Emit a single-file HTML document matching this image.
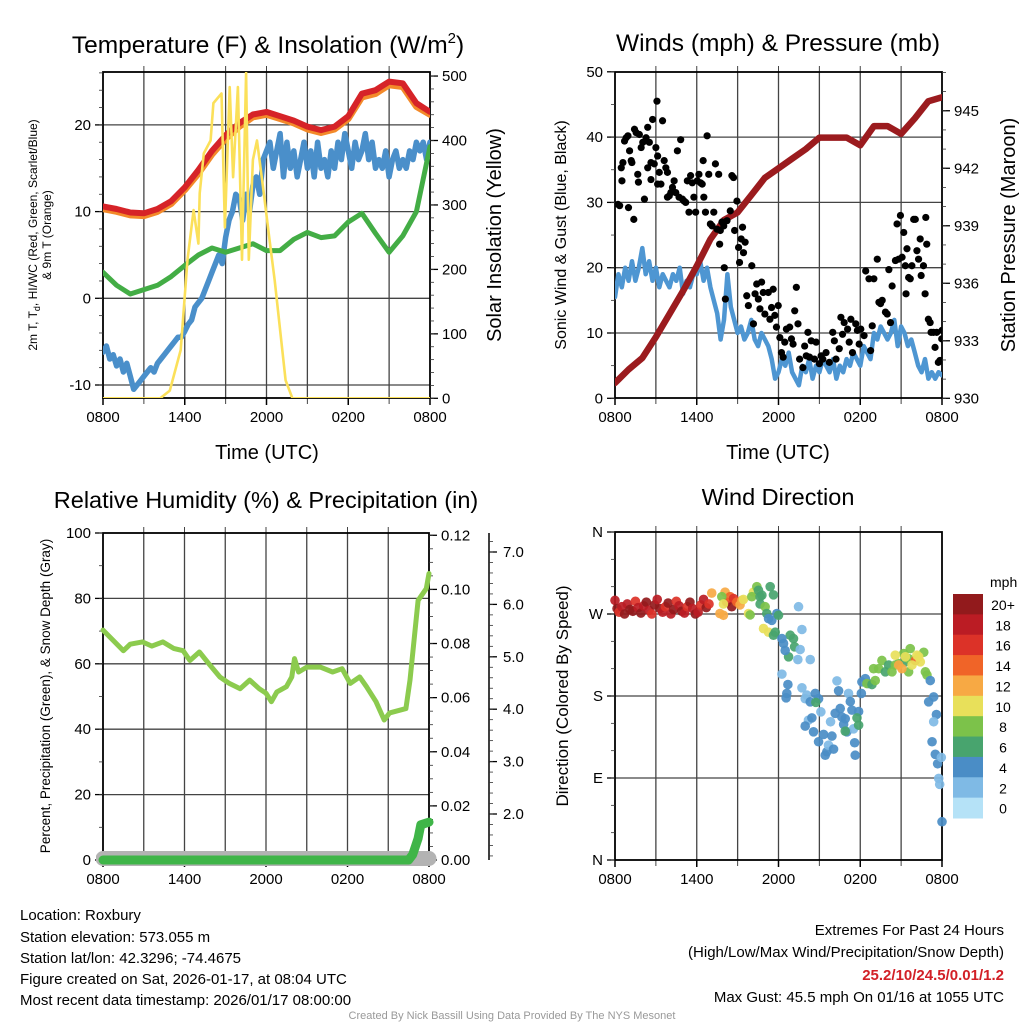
<!DOCTYPE html>
<html><head><meta charset="utf-8">
<style>
html,body{margin:0;padding:0;background:#fff;}
svg{display:block;font-family:"Liberation Sans",sans-serif;}
</style></head>
<body>
<svg id="chart" width="1024" height="1024" viewBox="0 0 1024 1024" xmlns="http://www.w3.org/2000/svg">
<rect x="0" y="0" width="1024" height="1024" fill="#fff"/>
<defs>
<clipPath id="c1"><rect x="103" y="72" width="327" height="326"/></clipPath>
<clipPath id="c2"><rect x="615" y="72" width="327" height="326"/></clipPath>
<clipPath id="c3"><rect x="96" y="520" width="347" height="350"/></clipPath>
<clipPath id="c4"><rect x="608" y="526" width="340" height="340"/></clipPath>
</defs>
<text x="268" y="53" font-size="24.5" text-anchor="middle">Temperature (F) &amp; Insolation (W/m<tspan font-size="15" dy="-10">2</tspan><tspan dy="10">)</tspan></text>
<text x="778" y="51" font-size="24.5" text-anchor="middle">Winds (mph) &amp; Pressure (mb)</text>
<text x="266" y="508" font-size="23.5" text-anchor="middle">Relative Humidity (%) &amp; Precipitation (in)</text>
<text x="778" y="505" font-size="23.5" text-anchor="middle">Wind Direction</text>
<text transform="translate(37,235) rotate(-90)" font-size="12" text-anchor="middle">2m T, T<tspan font-size="9" dy="3">d</tspan><tspan dy="-3">, HI/WC (Red, Green, Scarlet/Blue)</tspan></text>
<text transform="translate(51,235) rotate(-90)" font-size="12" text-anchor="middle">&amp; 9m T (Orange)</text>
<text transform="translate(501,235) rotate(-90)" font-size="20" text-anchor="middle">Solar Insolation (Yellow)</text>
<text x="267" y="459" font-size="20" text-anchor="middle">Time (UTC)</text>
<text transform="translate(566,235) rotate(-90)" font-size="16" text-anchor="middle">Sonic Wind &amp; Gust (Blue, Black)</text>
<text transform="translate(1015,235) rotate(-90)" font-size="20" text-anchor="middle">Station Pressure (Maroon)</text>
<text x="778" y="459" font-size="20" text-anchor="middle">Time (UTC)</text>
<text transform="translate(50,696) rotate(-90)" font-size="13.5" text-anchor="middle">Percent, Precipitation (Green), &amp; Snow Depth (Gray)</text>
<text transform="translate(568,696) rotate(-90)" font-size="17" text-anchor="middle">Direction (Colored By Speed)</text>
<text x="990" y="587" font-size="14">mph</text>
<g font-size="15">
<text x="20" y="920">Location: Roxbury</text>
<text x="20" y="942">Station elevation: 573.055 m</text>
<text x="20" y="963">Station lat/lon: 42.3296; -74.4675</text>
<text x="20" y="984">Figure created on Sat, 2026-01-17, at 08:04 UTC</text>
<text x="20" y="1005">Most recent data timestamp: 2026/01/17 08:00:00</text>
</g>
<g font-size="15" text-anchor="end">
<text x="1004" y="935">Extremes For Past 24 Hours</text>
<text x="1004" y="957">(High/Low/Max Wind/Precipitation/Snow Depth)</text>
<text x="1004" y="980" fill="#d22027" font-weight="bold">25.2/10/24.5/0.01/1.2</text>
<text x="1004" y="1002">Max Gust: 45.5 mph On 01/16 at 1055 UTC</text>
</g>
<text x="512" y="1019" font-size="11" fill="#999" text-anchor="middle">Created By Nick Bassill Using Data Provided By The NYS Mesonet</text>
</svg>
<script>
// ---------- DATA ----------
const hours = [0,1,2,3,4,5,6,7,8,9,10,11,12,13,14,15,16,17,18,19,20,21,22,23,24];
const quarterHours = [];
for (let i = 0; i <= 96; i++) quarterHours.push(i / 4);
const xTickLabels = ["0800","1400","2000","0200","0800"];
const tempRed = [10.6,10.3,9.9,9.8,10.3,11.2,12.8,14.8,17,18.8,20.2,21.2,21.5,21,20.5,19.8,19.4,19.8,21,23.6,24,25,24.8,22.5,21.5];
const tempOrange = [10.3,10,9.6,9.5,10,10.9,12.5,14.4,16.6,18.4,19.8,20.9,21.2,20.7,20.2,19.5,19.1,19.5,20.7,23.2,23.6,24.6,24.4,22.1,21.2];
const dewGreen = [3.0,1.5,0.5,1.0,1.5,2.5,3.8,5.0,5.8,5.3,5.8,6.3,5.5,5.5,6.8,7.6,7.0,7.2,8.8,9.8,7.5,5.3,7.2,10,17.5];
const windChillBlue = [-6.2,-5.5,-7,-6.5,-7.8,-7,-8.5,-7.5,-9,-10.5,-10,-9.5,-9,-8.5,-8,-8.5,-7.5,-7,-6.5,-6,-5.5,-5,-4.5,-4.5,-3.8,-3,-2.5,-1,-0.5,0,1,2,3,4,5,4,7,9,10,12,11.5,
 9,12,10,13,14,12,16,17,18,15,17,19,14,18,15,17,14,16,18,15,17,14,18,15,16,14,17,15,18,16,19,17,15,18,16,17,19,16,18,15,16,15,17,14,16,17,15,16,15,17,16,18,17,18,16,18];
const solarHours = [0,4.2,4.9,5.7,6.2,6.65,7.0,7.1,7.4,7.9,8.1,8.7,8.95,9.3,9.55,9.9,10.2,10.5,10.7,11.0,11.3,11.8,12.2,12.6,13.4,13.9,24];
const solarValues = [0,0,12,75,215,292,240,318,380,400,458,473,265,483,343,483,215,505,215,370,400,318,250,183,28,0,0];
const tempTicks = [-10,0,10,20];
const solarTicks = [0,100,200,300,400,500];
const pressure = [930.8,931.5,932.1,933.2,934.4,935.6,936.9,938.3,939.3,939.7,940.6,941.5,942.0,942.5,943.0,943.6,943.6,943.6,943.2,944.2,944.2,943.8,944.6,945.5,945.7];
const windSpeed = [15.5,19,17,20,18,21,18,20,23,19,21,18,20,17,19,18,17,19,18,20,16,18,17,19,19,
 21,18,20,17,15,13,9,12,19,14,12,10,11,9,10,12,9,8,10,9,8,6,3,4,
 6,5,7,4,3,2,5,4,6,3,5,4,6,5,4,6,3,5,4,6,5,7,6,5,8,7,6,10,9,11,10,9,10,12,8,11,10,8,9,7,5,4,6,3,4,3,4,3.5];
const gustHours = [0.22,0.34,0.46,0.58,0.51,0.7,0.82,0.95,0.99,1.07,1.19,1.24,1.38,1.43,1.55,1.67,1.79,1.72,1.92,2.04,2.16,2.28,2.4,2.4,2.52,2.64,2.64,2.76,2.88,3.0,3.08,3.13,3.25,3.13,3.37,3.49,3.61,3.73,3.85,3.85,3.98,4.1,4.22,4.34,4.46,4.58,4.7,4.82,4.95,5.07,5.19,5.31,5.43,5.55,5.67,5.79,5.92,6.04,6.16,6.28,6.4,6.47,6.52,6.64,6.76,6.88,7.0,7.13,7.25,7.37,7.49,7.61,7.68,7.73,7.85,7.98,8.02,8.1,8.22,8.46,8.58,8.7,8.78,8.95,9.07,9.14,9.26,9.36,9.43,9.55,9.67,9.79,10.04,10.16,10.28,10.4,10.52,10.64,10.76,10.88,11.0,11.25,11.37,11.49,11.61,11.73,11.85,11.98,12.1,12.22,12.34,12.46,12.58,12.82,12.95,13.07,13.19,13.31,13.43,13.55,13.79,13.92,14.04,14.16,14.28,14.4,14.64,14.76,15.0,15.13,15.25,15.49,15.73,15.98,16.1,16.22,16.46,16.58,16.7,16.82,17.07,17.19,17.31,17.43,17.67,17.79,17.92,18.04,18.28,18.4,18.64,18.76,18.88,19.0,19.25,19.37,19.49,19.61,19.85,19.98,20.1,20.22,20.34,20.58,20.7,20.82,20.95,21.07,21.19,21.31,21.36,21.43,21.55,21.67,21.79,21.92,22.04,22.16,22.28,22.4,22.47,22.64,22.76,22.81,22.88,23.0,23.13,23.2,23.37,23.49,23.61,23.73,23.85,23.98,24.0];
const gustMph = [29.7,29.5,35.3,36.1,33.3,39.4,39.9,40.2,29.2,37.9,36.4,36.1,27.4,41.2,40.7,34.3,40.4,33.1,38.4,39.2,30.5,39.9,41.5,35.3,39.2,36.1,33.5,42.7,35.9,38.4,45.5,37.1,34.6,32.8,32.8,42.5,36.4,35.3,34.6,30.8,31.0,31.5,32.3,33.3,31.5,37.9,30.8,39.6,30.5,30.2,30,33.3,28.5,34.1,33,30.8,28.5,33.3,34.3,33,32.8,36.4,30.8,28.5,40.2,34.3,26.7,26.4,28.5,35.9,25.9,34.3,23.6,25.7,27,26.4,20.0,15.2,27.2,28.7,34.1,33.8,25.7,30.2,23.1,20.8,24.4,26.2,22.3,23.9,15.7,14.2,20.3,11.4,16,17.5,15.2,13.7,17.8,16.2,12.9,16.2,12.1,13.9,16.7,12.7,10.9,14.2,9.3,7.0,6.3,8.6,10.6,10.9,9.1,8.3,13.4,17,11.4,6.0,4.7,8.0,6.5,10.1,6.3,8.8,6.0,8.6,5.3,6.5,6.0,7.0,5.5,10.1,8.8,6.0,7.6,12.4,9.8,11.6,10.6,8.6,12.1,7.0,11.4,10.4,8.3,10.6,9.6,19.5,18.3,7.3,11.1,18.3,21.3,14.7,14.5,15,13.2,12.9,19.7,11.6,17.2,21.1,26.7,21.3,28,21.6,25.4,20.3,16,22.9,18.5,18.3,20.3,27.4,27.4,22.6,21.3,24.4,18.8,20.3,16,27.7,23.6,12.1,11.6,10.1,10.1,7.8,10.1,5.5,5.8,9.1,10.4];
const windTicks = [0,10,20,30,40,50];
const pressureTicks = [930,933,936,939,942,945];
const rhHours = [0,1.5,2,2.9,3.6,4.4,5.2,5.9,6.4,7.1,7.8,8.6,9.3,10.1,10.8,11.5,12,12.4,12.8,13.5,13.9,14.1,14.4,15,16,16.9,17.6,18.2,18.9,19.4,20.1,20.7,21.1,22.3,22.6,23.2,23.8,24];
const rhValues = [70.3,64,66,66.7,65.4,66.7,64.7,64,61,63.6,60,56,54,52.4,55,52.4,51,48.4,51.4,53,56,61.6,57.5,59,59,57.5,58.5,54,56,53,48.4,42.8,45,46.3,55,79.4,83,87.6];
const precipHours = [0,22.5,22.8,23.0,23.2,23.4,24];
const precipValues = [0,0,0.002,0.005,0.008,0.013,0.014];
const snowHours = [0,24];
const snowDepth = [1.15,1.15];
const rhTicks = [0,20,40,60,80,100];
const precipTicks = [0,0.02,0.04,0.06,0.08,0.10,0.12];
const precipTickLabels = ["0.00","0.02","0.04","0.06","0.08","0.10","0.12"];
const snowTicks = [2,3,4,5,6,7];
const snowTickLabels = ["2.0","3.0","4.0","5.0","6.0","7.0"];
const dirHour = [0,0.15,0.3,0.5,0.7,0.9,1.1,1.3,1.5,1.7,1.9,2.1,2.3,2.5,2.7,2.9,3.1,3.3,3.5,3.7,3.9,4.1,4.3,4.5,4.7,4.9,5.1,5.3,5.5,5.7,5.9,6.1,6.3,6.5,6.7,6.9,
 7.1,7.7,7.96,8.08,8.2,8.57,8.45,8.7,8.94,9.18,9.31,7.84,7.96,9.43,10.16,9.8,9.92,10.04,10.41,10.53,10.65,10.78,10.65,11.02,11.14,11.39,11.63,11.27,11.51,11.88,12.0,10.9,11.27,11.63,11.76,12.86,13.1,13.18,12.74,12.25,12.37,12.49,13.47,13.72,14.33,13.42,13.59,12.25,12.69,12.61,12.56,
 13.72,13.96,14.08,14.33,14.7,14.94,14.2,14.45,13.96,14.57,14.94,15.11,15.31,15.43,15.55,15.67,15.92,16.04,16.16,16.29,16.41,16.53,16.65,16.78,16.9,17.02,17.14,17.27,17.39,17.51,17.59,17.63,17.88,18.08,18.12,18.37,18.61,15.82,14.74,16.9,17.76,17.88,
 18.49,18.86,19.1,18.98,19.35,19.59,19.84,20.08,20.33,20.57,20.82,21.31,21.55,21.67,22.66,22.78,22.9,21.55,21.19,20.57,20.82,21.06,22.04,22.29,22.41,21.8,21.31,22.16,
 23.14,23.39,23.02,23.59,23.39,23.27,23.51,23.68,23.95,23.76,23.83,24.0];
const dirDeg = [285,276,272,278,270,281,275,273,284,277,271,279,283,274,270,280,286,276,272,278,282,270,275,284,279,273,271,278,283,276,270,272,280,286,277,281,
 293,270.5,268.6,294,283,278,289,287,283,280,285,289,281,286,294,270.5,269,289,300,296,289,290.6,281,278,270.5,300,291,265,263,270.5,268.6,254,250,246.7,250,246.7,243,234,223,243,237.6,230,278,253,220,220,231,204,192.6,182.8,178,
 189,177,181,173.6,182.8,177,153.5,156,147,140.7,129.8,162.6,137.8,115,118.8,126,136,121.7,161,196.6,185.7,166.3,157,148.8,155,140.7,182.8,174,164.5,144,128.7,115,163,182.8,195.5,199,193.7,151.7,173,141.4,156,148,
 193.7,192.6,197,210,210,219,206.5,214,206.5,214,215.6,217.5,221,232,228,206.5,203,206.5,226.6,224.8,214,210,219,223,217.5,214,223,224.8,
 197,179,173.6,159.7,151.7,129.8,116,105.6,112.6,89.5,83,42];
const dirMph = [18,20,17,19,21,18,20,22,17,19,21,18,20,19,17,22,18,20,19,17,21,18,20,17,19,22,18,17,20,19,21,18,17,19,20,16,
 13,12,13,12,17,20,15,16,14,13,12,8,10,10,10,10,8,8,8,7,6,6,6,8,7,6,6,4,4,4,6,10,10,6,7,6,6,6,6,4,4,4,2,2,2,2,2,2,4,4,4,
 2,2,2,4,4,4,2,4,4,4,4,2,4,4,4,2,4,4,4,2,4,4,4,4,4,4,2,4,4,2,4,4,4,4,4,4,4,2,6,6,6,6,
 8,6,8,8,8,8,6,6,8,8,8,6,8,8,8,8,8,8,8,10,12,13,14,11,10,10,10,11,
 4,4,4,4,2,4,4,4,2,2,2,4];
const dirTicks = [0,90,180,270,360];
const dirTickLabels = ["N","E","S","W","N"];
const speedBins = ["0","2","4","6","8","10","12","14","16","18","20+"];
const speedColors = ["#b5e2f7","#7fbae5","#4a8dc6","#48a46e","#7cc24a","#e8e05a","#f7a944","#f06428","#dc3228","#bb1c24","#921a1c"];

// ---------- HELPERS ----------
const NS = "http://www.w3.org/2000/svg";
const svg = document.getElementById('chart');
function mk(tag, attrs, parent){
  const e = document.createElementNS(NS, tag);
  for (const k in attrs) e.setAttribute(k, attrs[k]);
  (parent || svg).appendChild(e);
  return e;
}
function group(name, clip){
  const g = mk('g', clip ? {'clip-path':'url(#'+clip+')'} : {});
  
  
  return g;
}
function label(g, x, y, s, size, anchor, name){
  const t = mk('text', {x:x, y:y, 'font-size':size, 'text-anchor':anchor}, g);
  t.textContent = s;
  
  
  return t;
}
function pathFrom(xs, ys, fx, fy){
  let d = '';
  const n = Math.min(xs.length, ys.length);
  for (let i = 0; i < n; i++) d += (i ? 'L' : 'M') + fx(xs[i]).toFixed(1) + ',' + fy(ys[i]).toFixed(1);
  return d;
}
function drawLine(g, xs, ys, fx, fy, color, w, name){
  const p = mk('path', {d:pathFrom(xs, ys, fx, fy), fill:'none', stroke:color, 'stroke-width':w, 'stroke-linejoin':'round', 'stroke-linecap':'round'}, g);
  
  
  return p;
}
function speedColor(v){
  let i = Math.floor(v / 2);
  if (i < 0) i = 0;
  if (i > 10) i = 10;
  return speedColors[i];
}

const P1 = {x0:103, x1:430, y0:72, y1:398};
const P2 = {x0:615, x1:942, y0:72, y1:398};
const P3 = {x0:103, x1:429, y0:533, y1:860};
const P4 = {x0:615, x1:942, y0:532, y1:860};
function xf(P){ return h => P.x0 + h * (P.x1 - P.x0) / 24; }

function frame(P, prefix, hLines){
  const g = group(prefix + '-grid');
  const fx = xf(P);
  for (let h = 3; h < 24; h += 3){
    const l = mk('line', {x1:fx(h), x2:fx(h), y1:P.y0, y2:P.y1, stroke:'#444', 'stroke-width':1.3}, g);
    
    
    const t = mk('line', {x1:fx(h), x2:fx(h), y1:P.y0, y2:P.y0 - 6, stroke:'#444', 'stroke-width':1}, g);
    
    
    const b = mk('line', {x1:fx(h), x2:fx(h), y1:P.y1, y2:P.y1 + 6, stroke:'#444', 'stroke-width':1}, g);
    
    
  }
  hLines.forEach(y => {
    const l = mk('line', {x1:P.x0, x2:P.x1, y1:y, y2:y, stroke:'#444', 'stroke-width':1.3}, g);
    
    
  });
  const r = mk('rect', {x:P.x0, y:P.y0, width:P.x1 - P.x0, height:P.y1 - P.y0, fill:'none', stroke:'#000', 'stroke-width':1.8}, g);
  
  
  xTickLabels.forEach((s, i) => {
    label(g, fx(i * 6), P.y1 + 24, s, 15, 'middle', prefix + '-x-tick-label');
    const t = mk('line', {x1:fx(i * 6), x2:fx(i * 6), y1:P.y1, y2:P.y1 + 7, stroke:'#000', 'stroke-width':1.5}, g);
    
    
  });
}
function yTicks(g, P, side, ticks, fy, labels, prefix, minorStep, lo, hi){
  const x = side === 'left' ? P.x0 : P.x1;
  const dir = side === 'left' ? -1 : 1;
  ticks.forEach((v, i) => {
    const y = fy(v);
    const t = mk('line', {x1:x, x2:x + dir * 8, y1:y, y2:y, stroke:'#000', 'stroke-width':1.3}, g);
    
    
    label(g, x + dir * 12, y + 5, labels[i], 15, side === 'left' ? 'end' : 'start', prefix + '-tick-label');
  });
  for (let v = lo; v <= hi + 1e-9; v += minorStep){
    const y = fy(v);
    if (y < P.y0 - 1 || y > P.y1 + 1) continue;
    const t = mk('line', {x1:x, x2:x + dir * 4, y1:y, y2:y, stroke:'#333', 'stroke-width':0.8}, g);
    
    
  }
}

// ---------- PANEL 1 ----------
(function(){
  const fx = xf(P1);
  const fT = v => 298.3 - v * 8.67;
  const fS = v => 398.3 - v * 0.6445;
  frame(P1, 'temp', tempTicks.map(fT));
  const ax = group('temp-axes');
  yTicks(ax, P1, 'left', tempTicks, fT, tempTicks.map(String), 'temp-y', 2, -12, 26);
  yTicks(ax, P1, 'right', solarTicks, fS, solarTicks.map(String), 'solar-y', 20, 0, 500);
  const g = group('temp-series', 'c1');
  drawLine(g, quarterHours, windChillBlue, fx, fT, '#4a8fca', 5.5, 'windchill-line');
  drawLine(g, hours, dewGreen, fx, fT, '#43ad45', 5, 'dewpoint-line');
  drawLine(g, hours, tempOrange, fx, fT, '#f38a2a', 6.5, 'temp-9m-line');
  drawLine(g, hours, tempRed, fx, fT, '#d62328', 6, 'temp-2m-line');
  drawLine(g, solarHours, solarValues, fx, fS, '#fbe05a', 2.6, 'insolation-line');
})();

// ---------- PANEL 2 ----------
(function(){
  const fx = xf(P2);
  const fW = v => 398.3 - v * 6.53;
  const fP = v => 398.3 - (v - 930) * 19.17;
  frame(P2, 'wind', [10,20,30,40].map(fW));
  const ax = group('wind-axes');
  yTicks(ax, P2, 'left', windTicks, fW, windTicks.map(String), 'wind-y', 5, 0, 50);
  yTicks(ax, P2, 'right', pressureTicks, fP, pressureTicks.map(String), 'pressure-y', 1, 930, 947);
  const g = group('wind-series', 'c2');
  drawLine(g, quarterHours, windSpeed, fx, fW, '#4e96d2', 4.5, 'wind-speed-line');
  drawLine(g, hours, pressure, fx, fP, '#9b1b1e', 6.5, 'pressure-line');
  for (let i = 0; i < gustHours.length; i++){
    const c = mk('circle', {cx:fx(gustHours[i]), cy:fW(gustMph[i]), r:3.6, fill:'#000'}, g);
    
    
  }
})();

// ---------- PANEL 3 ----------
(function(){
  const fx = xf(P3);
  const fR = v => 860 - v * 3.27;
  const fPr = v => 860 - v * 2706;
  const fSn = v => 814 - (v - 2) * 52.4;
  frame(P3, 'rh', [20,40,60,80].map(fR));
  const ax = group('rh-axes');
  yTicks(ax, P3, 'left', rhTicks, fR, rhTicks.map(String), 'rh-y', 10, 0, 100);
  yTicks(ax, P3, 'right', precipTicks, fPr, precipTickLabels, 'precip-y', 0.005, 0, 0.12);
  const sx = 489;
  const sl = mk('line', {x1:sx, x2:sx, y1:P3.y0, y2:P3.y1, stroke:'#000', 'stroke-width':1.5}, ax);
  
  
  snowTicks.forEach((v, i) => {
    const y = fSn(v);
    const t = mk('line', {x1:sx, x2:sx + 8, y1:y, y2:y, stroke:'#000', 'stroke-width':1.3}, ax);
    
    
    label(ax, sx + 14, y + 5, snowTickLabels[i], 15, 'start', 'snow-y-tick-label');
  });
  for (let v = 1; v <= 7.6; v += 0.2){
    const y = fSn(v);
    if (y < P3.y0 || y > P3.y1) continue;
    const t = mk('line', {x1:sx, x2:sx + 4, y1:y, y2:y, stroke:'#333', 'stroke-width':0.8}, ax);
    
    
  }
  const g = group('rh-series', 'c3');
  drawLine(g, snowHours, snowDepth, fx, fSn, '#b3b3b3', 15, 'snow-depth-line');
  drawLine(g, precipHours, precipValues, fx, fPr, '#3fb548', 9, 'precip-line');
  drawLine(g, rhHours, rhValues, fx, fR, '#8ccb4e', 5, 'rh-line');
})();

// ---------- PANEL 4 ----------
(function(){
  const fx = xf(P4);
  const fD = v => 860 - v * 0.9111;
  frame(P4, 'dir', [90,180,270].map(fD));
  const ax = group('dir-axes');
  yTicks(ax, P4, 'left', dirTicks, fD, dirTickLabels, 'dir-y', 30, 0, 360);
  const g = group('dir-series', 'c4');
  for (let i = 0; i < dirHour.length; i++){
    const c = mk('circle', {cx:fx(dirHour[i]), cy:fD(dirDeg[i]), r:4.8, fill:speedColor(dirMph[i]), 'fill-opacity':0.92}, g);
    
    
  }
  const cb = group('speed-colorbar');
  const top = 594, bh = (818 - 594) / speedBins.length;
  for (let i = 0; i < speedBins.length; i++){
    const k = speedBins.length - 1 - i;
    const r = mk('rect', {x:953, y:top + i * bh, width:30, height:bh + 0.5, fill:speedColors[k]}, cb);
    
    
    label(cb, 1003, top + i * bh + 16, speedBins[k], 14, 'middle', 'colorbar-label');
  }
})();
</script>
</body></html>
